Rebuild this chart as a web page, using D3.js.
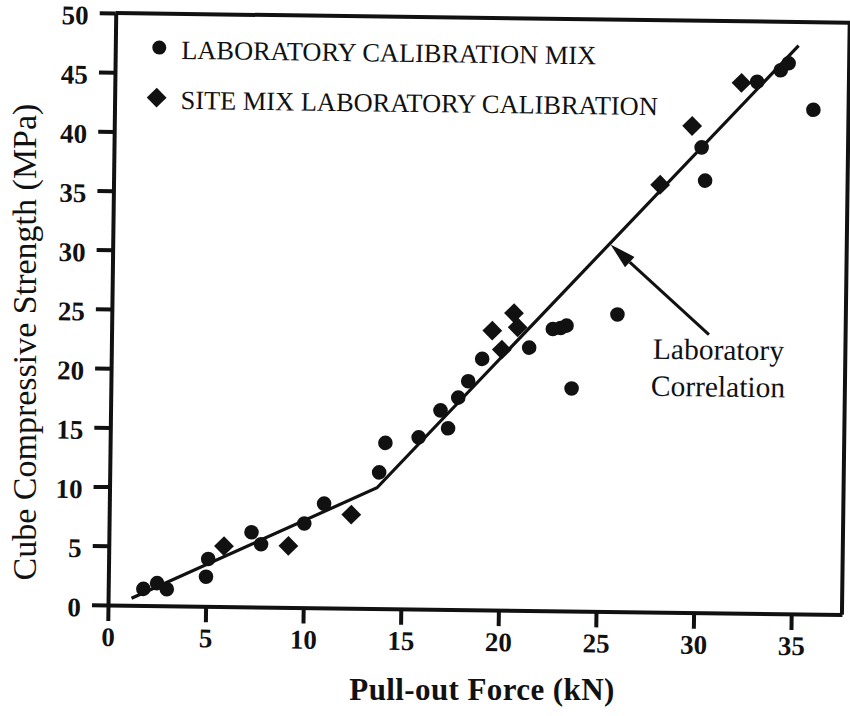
<!DOCTYPE html>
<html>
<head>
<meta charset="utf-8">
<script src="https://cdn.jsdelivr.net/npm/d3@7"></script>
<style>
  body { margin: 0; background: #fff; }
  svg text { font-family: "Liberation Serif", "Times New Roman", serif; fill: #111; }
</style>
</head>
<body>
<svg id="chart" width="850" height="716"></svg>
<script>
// Laboratory calibration mix (circles): pull-out force (kN) vs cube strength (MPa)
const labForce    = [1.8, 2.5, 3.0, 5.0, 5.1, 7.3, 7.8, 10.0, 11.0, 13.8, 14.1, 15.8, 16.9, 17.3, 17.8, 18.3, 19.0, 21.4, 22.6, 23.0, 23.3, 23.6, 25.9, 30.1, 30.3, 32.9, 34.1, 34.5, 35.8];
const labStrength = [1.4, 1.9, 1.4, 2.5, 4.0, 6.3, 5.3, 7.1, 8.8, 11.5, 14.0, 14.5, 16.8, 15.3, 17.9, 19.3, 21.2, 22.2, 23.8, 23.9, 24.1, 18.8, 25.1, 39.3, 36.5, 44.9, 45.9, 46.5, 42.6];

// Site mix laboratory calibration (diamonds)
const siteForce    = [5.9, 9.2, 12.4, 19.5, 20.0, 20.6, 20.8, 28.0, 29.6, 32.1];
const siteStrength = [5.1, 5.2, 7.9, 23.6, 22.0, 25.1, 23.9, 36.1, 41.1, 44.8];

// Laboratory correlation (bilinear)
const fitForce    = [1.2, 13.7, 35.0];
const fitStrength = [0.6, 10.2, 48.0];

// Axis ticks
const xTicks = [0, 5, 10, 15, 20, 25, 30, 35];
const yTicks = [0, 5, 10, 15, 20, 25, 30, 35, 40, 45, 50];

const xTitle = "Pull-out Force (kN)";
const yTitle = "Cube Compressive Strength (MPa)";
const legendLabels = ["LABORATORY CALIBRATION MIX", "SITE MIX LABORATORY CALIBRATION"];
const noteLines = ["Laboratory", "Correlation"];
// Arrow from the note to the correlation line: [tail, tip] in data units
const arrowForce    = [30.6, 25.5];
const arrowStrength = [23.5, 31.0];

const W = 734, H = 592;
const svg = d3.select("#chart");

// The plotting frame sits slightly turned, as on the printed page
const g = svg.append("g")
  .attr("transform", `translate(108,605) rotate(0.75) translate(0,${-H})`);

const x = d3.scaleLinear().domain([0, 37.6]).range([0, W]);
const y = d3.scaleLinear().domain([0, 50]).range([H, 0]);

const ink = "#111";

// Axes
const yAxis = g.append("g")
  .call(d3.axisLeft(y).tickValues(yTicks).tickSize(16).tickSizeOuter(0).tickPadding(11));
const xAxis = g.append("g")
  .attr("transform", `translate(0,${H})`)
  .call(d3.axisBottom(x).tickValues(xTicks).tickSize(16).tickSizeOuter(0).tickPadding(6));

[xAxis, yAxis].forEach(a => {
  a.select(".domain").attr("stroke", ink).attr("stroke-width", 4);
  a.selectAll(".tick line").attr("stroke", ink).attr("stroke-width", 4);
  a.selectAll(".tick text")
    .attr("font-family", "Liberation Serif, serif")
    .attr("font-size", 27)
    .attr("font-weight", "bold")
    .attr("fill", ink);
});
yAxis.selectAll(".tick text").attr("dy", "0.42em");

// Top and right borders
g.append("path")
  .attr("d", `M0,0H${W}V${H}`)
  .attr("fill", "none")
  .attr("stroke", ink)
  .attr("stroke-width", 4);

// Correlation line
const fitData = fitForce.map((f, i) => [f, fitStrength[i]]);
g.append("path")
  .datum(fitData)
  .attr("d", d3.line().x(d => x(d[0])).y(d => y(d[1])))
  .attr("fill", "none")
  .attr("stroke", ink)
  .attr("stroke-width", 3.2);

// Circles
const labData = labForce.map((f, i) => ({ f, s: labStrength[i] }));
g.append("g").selectAll("circle")
  .data(labData)
  .join("circle")
  .attr("cx", d => x(d.f))
  .attr("cy", d => y(d.s))
  .attr("r", 7.3)
  .attr("fill", ink);

// Diamonds
const diamond = d3.symbol().type(d3.symbolDiamond2).size(250);
const siteData = siteForce.map((f, i) => ({ f, s: siteStrength[i] }));
g.append("g").selectAll("path")
  .data(siteData)
  .join("path")
  .attr("transform", d => `translate(${x(d.f)},${y(d.s)})`)
  .attr("d", diamond)
  .attr("fill", ink);

// Arrow
const ax0 = x(arrowForce[0]), ay0 = y(arrowStrength[0]);
const ax1 = x(arrowForce[1]), ay1 = y(arrowStrength[1]);
const ang = Math.atan2(ay1 - ay0, ax1 - ax0);
const headLen = 26, headHalf = 7;
const bx = ax1 - headLen * Math.cos(ang), by = ay1 - headLen * Math.sin(ang);
g.append("line")
  .attr("x1", ax0).attr("y1", ay0).attr("x2", bx).attr("y2", by)
  .attr("stroke", ink).attr("stroke-width", 3);
g.append("path")
  .attr("d", `M${ax1},${ay1}L${bx - headHalf * Math.sin(ang)},${by + headHalf * Math.cos(ang)}L${bx + headHalf * Math.sin(ang)},${by - headHalf * Math.cos(ang)}Z`)
  .attr("fill", ink);

// Note text
g.append("g").selectAll("text")
  .data(noteLines)
  .join("text")
  .attr("x", x(31.1))
  .attr("y", (d, i) => y(21.4) + i * 37)
  .attr("text-anchor", "middle")
  .attr("font-size", 29.5)
  .text(d => d);

// Legend
const legend = g.append("g");
const legendRows = legendLabels.map((t, i) => ({ t, i }));
legend.selectAll("text")
  .data(legendRows)
  .join("text")
  .attr("x", 66)
  .attr("y", d => 45 + d.i * 50)
  .attr("font-size", 26.4)
  .text(d => d.t);
legend.append("circle").attr("cx", 44).attr("cy", 34).attr("r", 7).attr("fill", ink);
legend.append("path").attr("transform", "translate(42,84)").attr("d", diamond).attr("fill", ink);

// Axis titles
svg.append("text")
  .attr("x", 482).attr("y", 700)
  .attr("text-anchor", "middle")
  .attr("font-size", 31)
  .attr("font-weight", "bold")
  .attr("letter-spacing", 0.4)
  .text(xTitle);
svg.append("text")
  .attr("transform", "translate(36,342) rotate(-90)")
  .attr("text-anchor", "middle")
  .attr("font-size", 34)
  .text(yTitle);
</script>
</body>
</html>
